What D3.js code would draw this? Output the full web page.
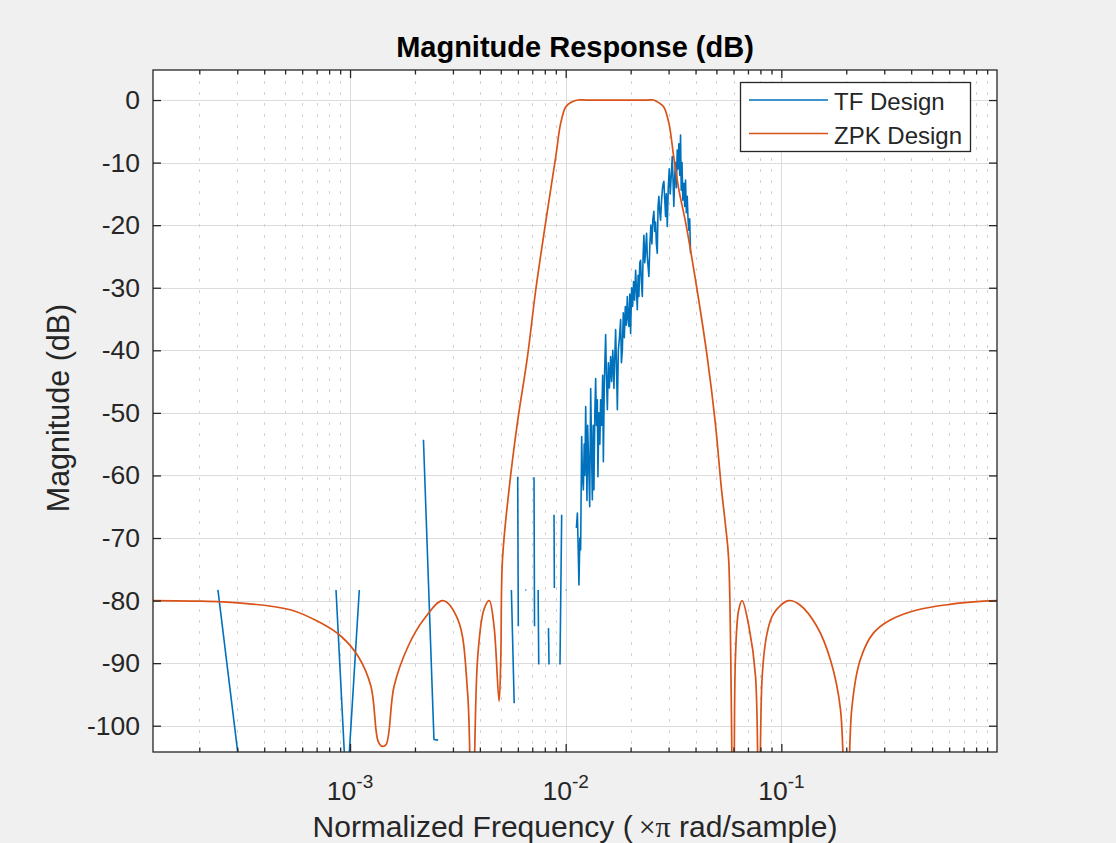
<!DOCTYPE html>
<html>
<head>
<meta charset="utf-8">
<script src="https://cdn.jsdelivr.net/npm/d3@7"></script>
<style>
  body { margin: 0; background: #f0f0f0; }
  svg { display: block; font-family: Arial, "Liberation Sans", Helvetica, sans-serif; }
</style>
</head>
<body>
<div id="chart"></div>
<script>
// ZPK design (smooth elliptic-like bandpass), normalized freq (x pi rad/sample) and dB
const zpkFreq = [
    1.22e-4, 2.04e-4, 3.13e-4, 5.33e-4, 7.34e-4, 9.08e-4, 1.09e-3, 1.25e-3, 1.35e-3, 1.41e-3,
    1.47e-3, 1.60e-3, 1.86e-3, 2.20e-3, 2.69e-3, 3.16e-3, 3.51e-3, 3.67e-3, 3.90e-3, 4.17e-3,
    4.42e-3, 4.65e-3, 4.91e-3, 5.00e-3, 5.09e-3, 5.46e-3, 5.97e-3, 6.65e-3, 7.26e-3, 8.07e-3,
    8.99e-3, 9.48e-3, 0.0100, 0.01055, 0.01137, 0.0125, 0.015, 0.018, 0.021, 0.024,
    0.0255, 0.0272, 0.0285, 0.0301, 0.0317,
    0.0335, 0.0360, 0.0407, 0.0453, 0.0494, 0.0527, 0.0551, 0.0570, 0.0601, 0.0612,
    0.0634, 0.0658, 0.0707, 0.0759, 0.0787, 0.0815, 0.0859, 0.0920, 0.108, 0.122,
    0.146, 0.169, 0.188, 0.200, 0.212, 0.232, 0.267, 0.320, 0.425, 0.605,
    0.865, 0.9999
];
const zpkMag = [
    -80.0, -80.1, -80.4, -81.5, -83.6, -85.7, -88.9, -93.7, -102.5, -103.3,
    -103.0, -93.7, -87.3, -83.0, -80.0, -83.0, -94.8, -130, -89.5, -81.5,
    -80.0, -84.0, -96.1, -89.5, -73.5, -62.3, -51.6, -41.0, -30.4, -19.6,
    -9.1, -3.7, -1.1, -0.4, 0, 0, 0, 0, 0, 0,
    0, -0.5, -1.1, -3.7, -9.1,
    -14.4, -19.6, -30.4, -41.0, -51.6, -62.0, -68.0, -73.5, -130, -89.5,
    -81.5, -80.0, -84.1, -92.1, -130, -92.1, -85.2, -82.1, -80.0, -80.7,
    -84.1, -89.5, -97.4, -130, -97.4, -89.5, -85.2, -83.1, -81.5, -80.6,
    -80.1, -80.0
];

// TF design (numerically broken), null = gap in the trace
const tfFreq = [
    2.44e-4, 3.16e-4, null,
    8.61e-4, 9.64e-4, 1.104e-3, null,
    2.19e-3, 2.45e-3, 2.56e-3, null,
    5.60e-3, 5.77e-3, null,
    5.99e-3, 6.03e-3, null,
    6.50e-3, 6.57e-3, null,
    7.13e-3, 7.17e-3, null,
    7.45e-3, 7.50e-3, null,
    8.32e-3, 8.37e-3, null,
    8.83e-3, 8.86e-3, null,
    9.41e-3, 9.58e-3, null,
    0.01000, 0.01007, null,
    0.01121, 0.01133, 0.01143, 0.01152, 0.01163, 0.01173, 0.01186, 0.01195, 0.01208, 0.01218,
    0.01227, 0.01238, 0.01246, 0.01255, 0.01264, 0.01278, 0.01292, 0.01306, 0.01317, 0.01329,
    0.01341, 0.01352, 0.01365, 0.01377, 0.01389, 0.01402, 0.01411, 0.01426, 0.01440, 0.01452,
    0.01468, 0.01484, 0.01495, 0.01511, 0.01532, 0.01545, 0.01560, 0.01577, 0.01594, 0.01616,
    0.01633, 0.01654, 0.01674, 0.01686, 0.01704, 0.01719, 0.01736, 0.01754, 0.01775, 0.01798,
    0.01813, 0.01831, 0.01850, 0.01870, 0.01890, 0.01910, 0.01931, 0.01947, 0.01964, 0.01983,
    0.02000, 0.02022, 0.02043, 0.02065, 0.02087, 0.02110, 0.02128, 0.02148, 0.02167, 0.02185,
    0.02206, 0.02225, 0.02244, 0.02266, 0.02285, 0.02305, 0.02327, 0.02347, 0.02372, 0.02390,
    0.02431, 0.02457, 0.02483, 0.02510, 0.02537, 0.02564, 0.02589, 0.02611, 0.02633, 0.02659,
    0.02681, 0.02704, 0.02731, 0.02754, 0.02783, 0.02813, 0.02834, 0.02853, 0.02880, 0.02905,
    0.02929, 0.02958, 0.02990, 0.03022, 0.03054, 0.03087, 0.03120, 0.03147, 0.03173, 0.03204,
    0.03231, 0.03259, 0.03291, 0.03319, 0.03347, 0.03379, 0.03408, 0.03434, 0.03463, 0.03493,
    0.03530, 0.03564, 0.03595, 0.03626, 0.03661, 0.03692, 0.03724, 0.03759, 0.03792
];
const tfMag = [
    -78.3, -110, null,
    -78.3, -111.4, -78.3, null,
    -54.3, -102.2, -102.3, null,
    -78.3, -96.4, null,
    -60.2, -84.1, null,
    -78.3, -78.3, null,
    -60.3, -84.1, null,
    -78.3, -90.2, null,
    -84.4, -90.2, null,
    -66.3, -78.0, null,
    -90.2, -66.3, null,
    -78.3, -78.3, null,
    -68.4, -66.0, -72, -77.5, -70, -71.9, -53.8, -60, -62.3, -55,
    -60, -49.0, -56, -64, -52, -58, -65, -46.1, -55, -63.9,
    -52, -62.3, -50, -44.5, -52, -47.9, -60.2, -50, -55, -47.9,
    -52, -44, -57.8, -45, -37.5, -44, -49.5, -42, -46, -41,
    -45, -40, -46.1, -42, -36.7, -42, -49.5, -40, -38, -35.1,
    -42, -40, -34, -38, -33, -36, -31.4, -35, -36.2, -31,
    -37.3, -30, -33, -29, -32, -27.2, -30, -33.5, -28, -31.4,
    -26, -25.6, -29, -31.4, -25, -21.6, -26, -24, -21.3, -25,
    -28.2, -23, -20, -23, -19, -17.8, -21, -19.5, -23, -24.5,
    -17, -15.4, -18, -19.2, -16, -14, -13.3, -13.0, -16, -18.6,
    -15, -20.2, -14, -11, -15, -12, -9.05, -13, -17, -12,
    -10, -14, -8.0, -11, -7, -12, -5.6, -14.4, -10, -16,
    -13.3, -17, -12.8, -18, -15.4, -19, -20.8, -19, -24.5
];

const yTicks = [-100, -90, -80, -70, -60, -50, -40, -30, -20, -10, 0];
const xMajorTicks = [1e-3, 1e-2, 1e-1];
const xTickExponents = ['-3', '-2', '-1'];
const seriesNames = ['TF Design', 'ZPK Design'];

const CHART_WIDTH = 1116;
const CHART_HEIGHT = 843;
const LEFT = 153, RIGHT = 997, TOP = 70, BOTTOM = 752;
const AXIS_COLOR = '#262626';
const COLORS = ['#0072BD', '#D95319'];

const svg = d3.select('#chart')
    .append('svg')
    .attr('width', CHART_WIDTH)
    .attr('height', CHART_HEIGHT);

svg.append('rect')
    .attr('width', CHART_WIDTH)
    .attr('height', CHART_HEIGHT)
    .attr('fill', '#f0f0f0');

const x = d3.scaleLog().domain([1.22e-4, 0.9999]).range([LEFT, RIGHT]);
const y = d3.scaleLinear().domain([-104.2, 4.8]).range([BOTTOM, TOP]);

// minor log ticks 2..9 in each decade
const xMinorTicks = [];
[1e-4, 1e-3, 1e-2, 1e-1].forEach(dec => {
    for (let m = 2; m <= 9; m++) xMinorTicks.push(m * dec);
});

svg.append('rect')
    .attr('x', LEFT).attr('y', TOP)
    .attr('width', RIGHT - LEFT).attr('height', BOTTOM - TOP)
    .attr('fill', '#fff');

// grid
const grid = svg.append('g').attr('shape-rendering', 'crispEdges');
grid.selectAll('.minor')
    .data(xMinorTicks)
    .enter()
    .append('line')
    .attr('x1', d => Math.round(x(d)) + 0.5)
    .attr('x2', d => Math.round(x(d)) + 0.5)
    .attr('y1', TOP)
    .attr('y2', BOTTOM)
    .attr('stroke', '#d2d2d2')
    .attr('stroke-dasharray', '3,8');
grid.selectAll('.ymaj')
    .data(yTicks)
    .enter()
    .append('line')
    .attr('x1', LEFT)
    .attr('x2', RIGHT)
    .attr('y1', d => Math.round(y(d)) + 0.5)
    .attr('y2', d => Math.round(y(d)) + 0.5)
    .attr('stroke', '#dcdcdc');
grid.selectAll('.xmaj')
    .data(xMajorTicks)
    .enter()
    .append('line')
    .attr('x1', d => Math.round(x(d)) + 0.5)
    .attr('x2', d => Math.round(x(d)) + 0.5)
    .attr('y1', TOP)
    .attr('y2', BOTTOM)
    .attr('stroke', '#dcdcdc');

// data lines
svg.append('clipPath')
    .attr('id', 'plot-clip')
    .append('rect')
    .attr('x', LEFT).attr('y', TOP)
    .attr('width', RIGHT - LEFT).attr('height', BOTTOM - TOP);

const plot = svg.append('g').attr('clip-path', 'url(#plot-clip)');

const tfData = tfFreq.map((f, i) => ({ f: f, m: tfMag[i] }));
const zpkData = zpkFreq.map((f, i) => ({ f: f, m: zpkMag[i] }));

const tfLine = d3.line()
    .defined(d => d.m !== null)
    .x(d => x(d.f))
    .y(d => y(d.m));

const zpkLine = d3.line()
    .x(d => x(d.f))
    .y(d => y(d.m))
    .curve(d3.curveCatmullRom.alpha(0.5));

plot.append('path')
    .datum(tfData)
    .attr('d', tfLine)
    .attr('fill', 'none')
    .attr('stroke', COLORS[0])
    .attr('stroke-width', 1.6)
    .attr('stroke-linejoin', 'round');

plot.append('path')
    .datum(zpkData)
    .attr('d', zpkLine)
    .attr('fill', 'none')
    .attr('stroke', COLORS[1])
    .attr('stroke-width', 1.7);

// axes (ticks pointing inward, MATLAB style)
function styleAxis(g) {
    g.select('.domain').remove();
    g.selectAll('.tick line').attr('stroke', AXIS_COLOR).attr('stroke-width', 1.3);
    g.selectAll('.tick text')
        .attr('fill', AXIS_COLOR)
        .attr('font-size', '26.5px')
        .attr('font-family', 'Arial, "Liberation Sans", Helvetica, sans-serif');
}

svg.append('g')
    .attr('transform', `translate(${LEFT},0)`)
    .call(d3.axisLeft(y).tickValues(yTicks).tickSizeInner(-8).tickSizeOuter(0)
        .tickPadding(13).tickFormat(d => String(d)))
    .call(styleAxis);

svg.append('g')
    .attr('transform', `translate(${RIGHT},0)`)
    .call(d3.axisRight(y).tickValues(yTicks).tickSizeInner(-8).tickSizeOuter(0).tickFormat(''))
    .call(styleAxis);

svg.append('g')
    .attr('transform', `translate(0,${BOTTOM})`)
    .call(d3.axisBottom(x).tickValues(xMinorTicks).tickSizeInner(-4.5).tickSizeOuter(0).tickFormat(''))
    .call(styleAxis);

svg.append('g')
    .attr('transform', `translate(0,${TOP})`)
    .call(d3.axisTop(x).tickValues(xMinorTicks).tickSizeInner(-4.5).tickSizeOuter(0).tickFormat(''))
    .call(styleAxis);

svg.append('g')
    .attr('transform', `translate(0,${BOTTOM})`)
    .call(d3.axisBottom(x).tickValues(xMajorTicks).tickSizeInner(-8).tickSizeOuter(0).tickFormat(''))
    .call(styleAxis);

svg.append('g')
    .attr('transform', `translate(0,${TOP})`)
    .call(d3.axisTop(x).tickValues(xMajorTicks).tickSizeInner(-8).tickSizeOuter(0).tickFormat(''))
    .call(styleAxis);

// x tick labels 10^n
const xLabels = svg.append('g')
    .selectAll('text')
    .data(xMajorTicks)
    .enter()
    .append('text')
    .attr('x', d => x(d))
    .attr('y', 800)
    .attr('text-anchor', 'middle')
    .attr('fill', AXIS_COLOR)
    .attr('font-size', '26.5px');
xLabels.append('tspan').text('10');
xLabels.append('tspan')
    .attr('dy', -12)
    .attr('font-size', '19px')
    .text((d, i) => xTickExponents[i]);

// box
svg.append('rect')
    .attr('x', LEFT).attr('y', TOP)
    .attr('width', RIGHT - LEFT).attr('height', BOTTOM - TOP)
    .attr('fill', 'none')
    .attr('stroke', AXIS_COLOR)
    .attr('stroke-width', 1.3);

// title and labels
svg.append('text')
    .attr('x', (LEFT + RIGHT) / 2)
    .attr('y', 57)
    .attr('text-anchor', 'middle')
    .attr('font-size', '29px')
    .attr('font-weight', 'bold')
    .attr('fill', '#000')
    .text('Magnitude Response (dB)');

svg.append('text')
    .attr('transform', `translate(69,${(TOP + BOTTOM) / 2 - 3}) rotate(-90)`)
    .attr('text-anchor', 'middle')
    .attr('font-size', '30.5px')
    .attr('fill', AXIS_COLOR)
    .text('Magnitude (dB)');

const xTitle = svg.append('text')
    .attr('x', (LEFT + RIGHT) / 2)
    .attr('y', 837)
    .attr('text-anchor', 'middle')
    .attr('font-size', '30px')
    .attr('fill', AXIS_COLOR);
xTitle.append('tspan').text('Normalized Frequency (\u2009');
xTitle.append('tspan')
    .attr('font-family', '"Liberation Serif", "Times New Roman", serif')
    .text('\u00d7\u03c0');
xTitle.append('tspan').text(' rad/sample)');

// legend
const legend = svg.append('g');
legend.append('rect')
    .attr('x', 740.5).attr('y', 82.5)
    .attr('width', 230).attr('height', 69)
    .attr('fill', '#fff')
    .attr('stroke', AXIS_COLOR)
    .attr('stroke-width', 1.3);

const items = legend.selectAll('g')
    .data(seriesNames)
    .enter()
    .append('g')
    .attr('transform', (d, i) => `translate(0,${100 + i * 33.5})`);
items.append('line')
    .attr('x1', 749).attr('x2', 828)
    .attr('stroke', (d, i) => COLORS[i])
    .attr('stroke-width', 1.6);
items.append('text')
    .attr('x', 834)
    .attr('dy', '0.42em')
    .attr('font-size', '24px')
    .attr('fill', AXIS_COLOR)
    .text(d => d);
</script>
</body>
</html>
